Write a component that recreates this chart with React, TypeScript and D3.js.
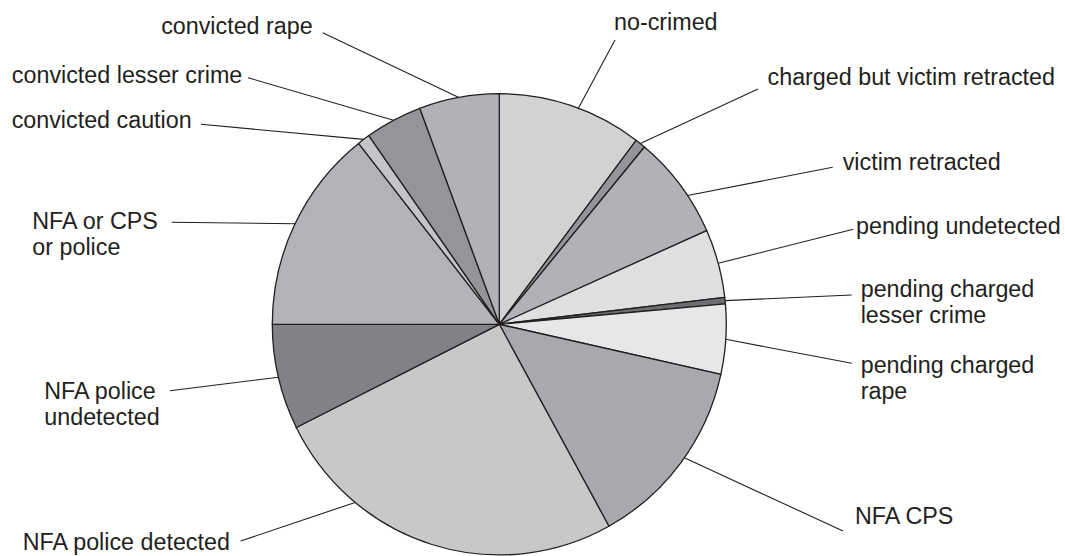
import React from "react";
import * as d3 from "d3";

// ---- data (percent of cases) ----
const categories = [
  "no-crimed",
  "charged but victim retracted",
  "victim retracted",
  "pending undetected",
  "pending charged lesser crime",
  "pending charged rape",
  "NFA CPS",
  "NFA police detected",
  "NFA police undetected",
  "NFA or CPS or police",
  "convicted caution",
  "convicted lesser crime",
  "convicted rape",
];
const values = [10.3, 0.75, 7.3, 4.8, 0.45, 4.9, 13.5, 25.65, 7.4, 14.35, 0.9, 4.05, 5.7];
const labelLines = [
  ["no-crimed"],
  ["charged but victim retracted"],
  ["victim retracted"],
  ["pending undetected"],
  ["pending charged", "lesser crime"],
  ["pending charged", "rape"],
  ["NFA CPS"],
  ["NFA police detected"],
  ["NFA police", "undetected"],
  ["NFA or CPS", "or police"],
  ["convicted caution"],
  ["convicted lesser crime"],
  ["convicted rape"],
];

// ---- styles ----
const fills = [
  "#d1d2d4", "#939598", "#b1b2b5", "#dfe0e1", "#6d6e71", "#e6e7e8",
  "#a7a9ac", "#c7c8ca", "#808285", "#b2b3b6", "#c4c5c8", "#939598", "#b1b2b5",
];
const ink = "#231f20";

// ---- layout ----
const W = 1065, H = 556;
const cx = 499.3, cy = 324.3, rx = 227, ry = 230.6;
const fontSize = 23.3;
const lineGap = 25.6;
// x, y (first baseline), anchor, leader end (lx, ly), leader anchor fraction within slice
const labelLayout = [
  { x: 614, y: 30, anchor: "start", lx: 615, ly: 40, f: 0.55 },
  { x: 1055, y: 85, anchor: "end", lx: 758, ly: 89, f: 0.5 },
  { x: 842.7, y: 170, anchor: "start", lx: 832.7, ly: 167.3, f: 0.62 },
  { x: 856, y: 234, anchor: "start", lx: 853.3, ly: 229.3, f: 0.5 },
  { x: 860.7, y: 297.3, anchor: "start", lx: 851.7, ly: 295, f: 0.5 },
  { x: 860.7, y: 373, anchor: "start", lx: 851.7, ly: 363.3, f: 0.5 },
  { x: 855, y: 524, anchor: "start", lx: 843, ly: 531, f: 0.47 },
  { x: 22.7, y: 550, anchor: "start", lx: 240.7, ly: 541, f: 0.74 },
  { x: 44.3, y: 399.3, anchor: "start", lx: 170, ly: 390.7, f: 0.5 },
  { x: 32.3, y: 229.3, anchor: "start", lx: 171.7, ly: 222.3, f: 0.5 },
  { x: 191.7, y: 128.3, anchor: "end", lx: 201, ly: 124.3, f: 0.5 },
  { x: 242.3, y: 82.7, anchor: "end", lx: 248, ly: 77.7, f: 0.5 },
  { x: 312.7, y: 33.5, anchor: "end", lx: 322.7, ly: 32.7, f: 0.5 },
];

export default function App() {
  const pie = d3.pie<number>().sort(null).value((d) => d);
  const arcs = pie(values);
  const arc = d3.arc<d3.PieArcDatum<number>>().innerRadius(0).outerRadius(rx);
  const sy = ry / rx;

  return (
    <svg
      width={W}
      height={H}
      viewBox={`0 0 ${W} ${H}`}
      style={{ position: "absolute", left: 0, top: 0, background: "#fff" }}
    >
      <g transform={`translate(${cx},${cy}) scale(1,${sy})`}>
        {arcs.map((a, i) => (
          <path
            key={categories[i]}
            d={arc(a) || ""}
            fill={fills[i]}
            stroke={ink}
            strokeWidth={1.3}
            strokeLinejoin="round"
            vectorEffect="non-scaling-stroke"
          />
        ))}
      </g>
      <g>
        {arcs.map((a, i) => {
          const L = labelLayout[i];
          const ang = a.startAngle + (a.endAngle - a.startAngle) * L.f;
          const px = cx + rx * Math.sin(ang);
          const py = cy - ry * Math.cos(ang);
          return (
            <line
              key={"l" + i}
              x1={px}
              y1={py}
              x2={L.lx}
              y2={L.ly}
              stroke={ink}
              strokeWidth={1.1}
            />
          );
        })}
      </g>
      <g
        fontFamily="'Liberation Sans', Arial, Helvetica, sans-serif"
        fontSize={fontSize}
        fill={ink}
      >
        {labelLines.map((lines, i) => {
          const L = labelLayout[i];
          return (
            <text key={"t" + i} x={L.x} y={L.y} textAnchor={L.anchor}>
              {lines.map((s, j) => (
                <tspan key={j} x={L.x} y={L.y + j * lineGap}>
                  {s}
                </tspan>
              ))}
            </text>
          );
        })}
      </g>
    </svg>
  );
}
